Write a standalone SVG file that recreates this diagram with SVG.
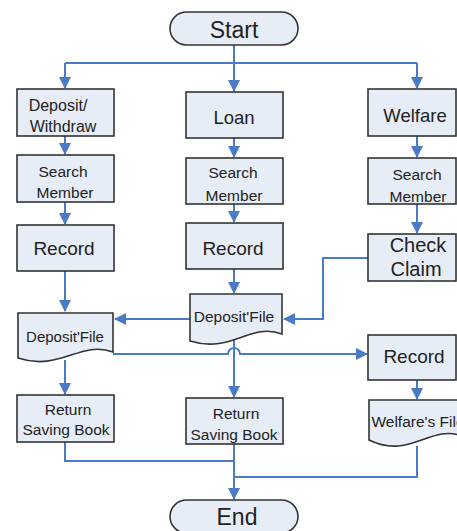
<svg xmlns="http://www.w3.org/2000/svg" width="457" height="531" viewBox="0 0 457 531">
<style>
.box{fill:#e7edf6;stroke:#333;stroke-width:1.6}
.t{font-family:"Liberation Sans",Arial,sans-serif;fill:#222;text-anchor:middle}
.c{fill:none;stroke:#4a7bc4;stroke-width:2}
</style>
<defs>
<marker id="ah" markerUnits="userSpaceOnUse" markerWidth="12" markerHeight="12" viewBox="0 0 12 12" refX="11" refY="6" orient="auto">
<path d="M0,0 L12,6 L0,12 Z" fill="#4a7bc4"/>
</marker>
</defs>
<rect width="457" height="531" fill="#fff"/>
<g id="connectors">
<path class="c" d="M234,45 V63"/>
<path class="c" d="M65,63 H417"/>
<path class="c" d="M65,63 V88" marker-end="url(#ah)"/>
<path class="c" d="M234,63 V91" marker-end="url(#ah)"/>
<path class="c" d="M417,63 V88" marker-end="url(#ah)"/>
<path class="c" d="M65,136 V154" marker-end="url(#ah)"/>
<path class="c" d="M234,138 V157" marker-end="url(#ah)"/>
<path class="c" d="M417,136 V157" marker-end="url(#ah)"/>
<path class="c" d="M65,202 V224" marker-end="url(#ah)"/>
<path class="c" d="M234,204 V222" marker-end="url(#ah)"/>
<path class="c" d="M417,204 V233" marker-end="url(#ah)"/>
<path class="c" d="M65,271 V311" marker-end="url(#ah)"/>
<path class="c" d="M234,269 V293" marker-end="url(#ah)"/>
<path class="c" d="M190,319 H115" marker-end="url(#ah)"/>
<path class="c" d="M368,258 H323 V319 H284" marker-end="url(#ah)"/>
<path class="c" d="M234,338 V397" marker-end="url(#ah)"/>
<path class="c" d="M113,354 H228 A6,6 0 0 1 240,354 H367" marker-end="url(#ah)"/>
<path class="c" d="M65,360 V394" marker-end="url(#ah)"/>
<path class="c" d="M417,380 V399" marker-end="url(#ah)"/>
<path class="c" d="M65,442 V461 H234"/>
<path class="c" d="M417,446 V477 H234"/>
<path class="c" d="M234,444 V499" marker-end="url(#ah)"/>
</g>
<g id="start">
<rect class="box" x="170" y="12" width="128" height="33" rx="16.5"/>
<text class="t" x="234" y="38" font-size="23">Start</text>
</g>
<g id="deposit-withdraw">
<rect class="box" x="17" y="89" width="97" height="47"/>
<text class="t" x="58" y="111" font-size="16">Deposit/</text>
<text class="t" x="63" y="132" font-size="16">Withdraw</text>
</g>
<g id="loan">
<rect class="box" x="186" y="92" width="97" height="46"/>
<text class="t" x="234" y="124" font-size="18.5">Loan</text>
</g>
<g id="welfare">
<rect class="box" x="368" y="89" width="88" height="47"/>
<text class="t" x="415" y="122" font-size="18.5">Welfare</text>
</g>
<g id="search1">
<rect class="box" x="17" y="155" width="97" height="47"/>
<text class="t" x="63" y="177" font-size="15.5">Search</text>
<text class="t" x="65" y="198" font-size="15.5">Member</text>
</g>
<g id="search2">
<rect class="box" x="186" y="158" width="97" height="46"/>
<text class="t" x="233" y="178" font-size="15.5">Search</text>
<text class="t" x="234" y="201" font-size="15.5">Member</text>
</g>
<g id="search3">
<rect class="box" x="368" y="158" width="88" height="46"/>
<text class="t" x="417" y="180" font-size="15.5">Search</text>
<text class="t" x="418" y="202" font-size="15.5">Member</text>
</g>
<g id="record1">
<rect class="box" x="17" y="225" width="97" height="46"/>
<text class="t" x="64" y="255" font-size="19">Record</text>
</g>
<g id="record2">
<rect class="box" x="186" y="223" width="97" height="46"/>
<text class="t" x="233" y="255" font-size="19">Record</text>
</g>
<g id="check-claim">
<rect class="box" x="368" y="234" width="88" height="47"/>
<text class="t" x="418" y="252" font-size="20">Check</text>
<text class="t" x="416" y="276" font-size="20">Claim</text>
</g>
<g id="depositfile1">
<path class="box" d="M18,313 H113 V352 C80,340 60,372 18,358 Z"/>
<text class="t" x="65" y="342" font-size="15">Deposit'File</text>
</g>
<g id="depositfile2">
<path class="box" d="M190,294 H282 V334 C250,322 232,354 190,341 Z"/>
<text class="t" x="234" y="322" font-size="15.5">Deposit'File</text>
</g>
<g id="record3">
<rect class="box" x="368" y="335" width="88" height="45"/>
<text class="t" x="414" y="363" font-size="19">Record</text>
</g>
<g id="return1">
<rect class="box" x="17" y="395" width="97" height="47"/>
<text class="t" x="68" y="415" font-size="15.5">Return</text>
<text class="t" x="66" y="435" font-size="15.5">Saving Book</text>
</g>
<g id="return2">
<rect class="box" x="186" y="398" width="97" height="46"/>
<text class="t" x="236" y="419" font-size="15.5">Return</text>
<text class="t" x="234" y="440" font-size="15.5">Saving Book</text>
</g>
<g id="welfarefile">
<path class="box" d="M369,400 H462 V436 C430,424 410,460 369,440 Z"/>
<text class="t" x="418" y="427" font-size="15.5">Welfare's File</text>
</g>
<g id="end">
<rect class="box" x="170" y="500" width="128" height="33" rx="16.5"/>
<text class="t" x="237" y="525" font-size="23">End</text>
</g>
</svg>
